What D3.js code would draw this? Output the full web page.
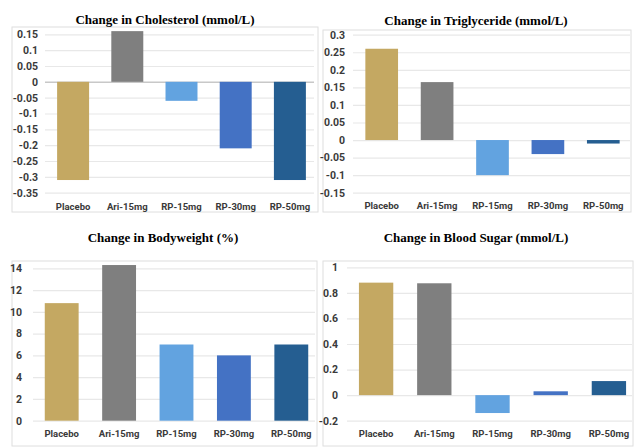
<!DOCTYPE html>
<html>
<head>
<meta charset="UTF-8">
<title>Metabolic changes</title>
<script src="https://d3js.org/d3.v7.min.js"></script>
<style>
  body { margin: 0; background: #fff; }
  svg { display: block; }
</style>
</head>
<body>
<div id="chart"></div>
<script>
    // data
    const categories = ["Placebo", "Ari-15mg", "RP-15mg", "RP-30mg", "RP-50mg"];
    const barColors = ["#c4a862", "#7f7f7f", "#62a3e0", "#4472c4", "#255e91"];

    const cholesterol = [-0.31, 0.16, -0.06, -0.21, -0.31];
    const triglyceride = [0.26, 0.165, -0.10, -0.04, -0.01];
    const bodyweight = [10.8, 14.3, 7.0, 6.0, 7.0];
    const bloodSugar = [0.88, 0.875, -0.14, 0.03, 0.11];

    const cholesterolTicks = [0.15, 0.1, 0.05, 0, -0.05, -0.1, -0.15, -0.2, -0.25, -0.3, -0.35];
    const triglycerideTicks = [0.3, 0.25, 0.2, 0.15, 0.1, 0.05, 0, -0.05, -0.1, -0.15];
    const bodyweightTicks = [0, 2, 4, 6, 8, 10, 12, 14];
    const bloodSugarTicks = [1, 0.8, 0.6, 0.4, 0.2, 0, -0.2];

    // layout of the four pasted panels
    const panels = [
        { title: "Change in Cholesterol (mmol/L)", values: cholesterol, ticks: cholesterolTicks,
          box: [12, 27, 318, 212], titleX: 165, titleY: 24,
          x: [46, 317], y: [34.3, 192.7], dom: [0.15, -0.35], labelX: 38, gridX: [45, 314], catY: 210, zeroDark: true },
        { title: "Change in Triglyceride (mmol/L)", values: triglyceride, ticks: triglycerideTicks,
          box: [323, 30, 631, 212], titleX: 476, titleY: 25,
          x: [354, 631], y: [34.7, 192.7], dom: [0.3, -0.15], labelX: 345, gridX: [353, 630], catY: 209 },
        { title: "Change in Bodyweight (%)", values: bodyweight, ticks: bodyweightTicks,
          box: [12, 261, 317, 446], titleX: 163, titleY: 242,
          x: [33, 320], y: [268.3, 420.7], dom: [14, 0], labelX: 22, gridX: [33, 315], catY: 437 },
        { title: "Change in Blood Sugar (mmol/L)", values: bloodSugar, ticks: bloodSugarTicks,
          box: [323, 261, 633, 446], titleX: 476, titleY: 242,
          x: [347, 638], y: [267.3, 420.7], dom: [1, -0.2], labelX: 338, gridX: [347, 632], catY: 437 }
    ];

    const svg = d3.select("#chart").append("svg")
        .attr("width", 641)
        .attr("height", 448)
        .attr("viewBox", [0, 0, 641, 448]);

    const fmt = d => String(+d.toFixed(2));
    const labelFont = "Roboto, Lato, sans-serif";

    panels.forEach(p => {
        const g = svg.append("g");

        g.append("rect")
            .attr("x", p.box[0]).attr("y", p.box[1])
            .attr("width", p.box[2] - p.box[0]).attr("height", p.box[3] - p.box[1])
            .attr("fill", "none")
            .attr("stroke", "#dedede");

        const x = d3.scaleBand().domain(categories).range(p.x).paddingInner(0.41).paddingOuter(0.205);
        const y = d3.scaleLinear().domain(p.dom).range(p.y);

        // grid
        g.selectAll(".grid").data(p.ticks).join("line")
            .attr("x1", p.gridX[0]).attr("x2", p.gridX[1])
            .attr("y1", d => y(d) + 0.5).attr("y2", d => y(d) + 0.5)
            .attr("stroke", d => (d === 0 && p.zeroDark) ? "#c8c8c8" : "#e8e8e8")
            .attr("stroke-width", d => (d === 0 && p.zeroDark) ? 1.5 : 1.2);

        // y tick labels
        const axis = d3.axisLeft(y).tickValues(p.ticks).tickFormat(fmt).tickSize(0).tickPadding(0);
        const ag = g.append("g").attr("transform", `translate(${p.labelX},0)`).call(axis);
        ag.select(".domain").remove();
        ag.selectAll("text")
            .attr("font-family", labelFont)
            .attr("font-weight", 700)
            .attr("font-size", 10.5)
            .attr("fill", "#3a3a3a");

        // bars
        g.selectAll(".bar").data(p.values).join("rect")
            .attr("x", (d, i) => x(categories[i]))
            .attr("width", x.bandwidth())
            .attr("y", d => y(Math.max(0, d)))
            .attr("height", d => Math.abs(y(d) - y(0)))
            .attr("fill", (d, i) => barColors[i]);

        // category labels
        g.selectAll(".cat").data(categories).join("text")
            .attr("x", d => x(d) + x.bandwidth() / 2)
            .attr("y", p.catY)
            .attr("text-anchor", "middle")
            .attr("font-family", labelFont)
            .attr("font-weight", 700)
            .attr("font-size", 9.5)
            .attr("fill", "#3a3a3a")
            .text(d => d);

        // title
        g.append("text")
            .attr("x", p.titleX)
            .attr("y", p.titleY)
            .attr("text-anchor", "middle")
            .attr("font-family", "'Liberation Serif', 'Times New Roman', serif")
            .attr("font-weight", "bold")
            .attr("font-size", 13)
            .attr("fill", "#000")
            .text(p.title);
    });
</script>
</body>
</html>
